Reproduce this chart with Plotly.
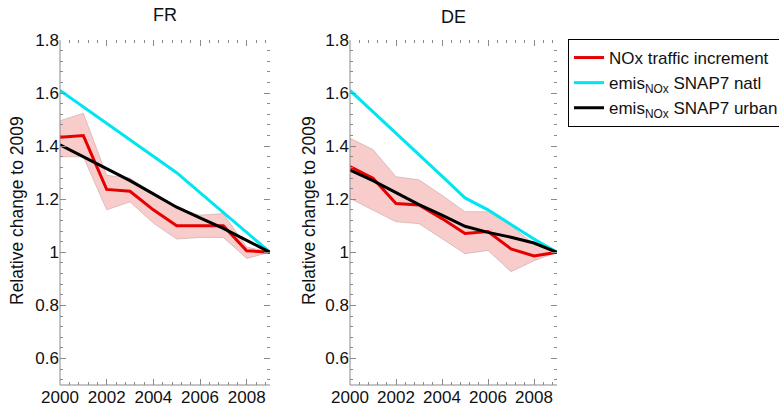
import plotly.graph_objects as go

years = list(range(2000, 2010))

# FR
fr_no2 = [1.434, 1.44, 1.237, 1.23, 1.16, 1.10, 1.10, 1.10, 1.006, 1.0]
fr_hi = [1.496, 1.524, 1.29, 1.28, 1.22, 1.165, 1.14, 1.146, 1.02, 1.0]
fr_lo = [1.36, 1.36, 1.16, 1.19, 1.11, 1.05, 1.056, 1.056, 0.977, 1.0]
fr_natl = [1.61, 1.548, 1.486, 1.424, 1.362, 1.30, 1.225, 1.15, 1.075, 1.0]
fr_urban = [1.405, 1.36, 1.315, 1.27, 1.22, 1.17, 1.13, 1.09, 1.045, 1.0]

# DE
de_no2 = [1.323, 1.279, 1.184, 1.178, 1.127, 1.071, 1.078, 1.013, 0.986, 1.0]
de_hi = [1.43, 1.387, 1.285, 1.273, 1.215, 1.153, 1.153, 1.10, 1.03, 1.0]
de_lo = [1.203, 1.159, 1.115, 1.108, 1.05, 0.995, 1.007, 0.927, 0.968, 1.0]
de_natl = [1.61, 1.53, 1.45, 1.37, 1.287, 1.205, 1.16, 1.105, 1.05, 1.0]
de_urban = [1.31, 1.27, 1.225, 1.18, 1.14, 1.098, 1.075, 1.057, 1.035, 1.0]

panel_titles = ["FR", "DE"]
y_title = "Relative change to 2009"
legend_names = ["NOx traffic increment",
                "emis<sub>NOx</sub> SNAP7 natl",
                "emis<sub>NOx</sub> SNAP7 urban"]
y_tickvals = [0.6, 0.8, 1.0, 1.2, 1.4, 1.6, 1.8]
y_ticktext = ["0.6", "0.8", "1", "1.2", "1.4", "1.6", "1.8"]

RED = "rgb(230,0,0)"
CYAN = "rgb(0,230,240)"
BLACK = "rgb(0,0,0)"
BAND = "rgba(245,170,170,0.6)"
BAND_EDGE = "rgba(190,150,150,0.7)"
FONT = "Liberation Sans, Arial, sans-serif"

fig = go.Figure()

panels = [
    ("x", "y", fr_no2, fr_hi, fr_lo, fr_natl, fr_urban, True),
    ("x2", "y2", de_no2, de_hi, de_lo, de_natl, de_urban, False),
]
for xa, ya, no2, hi, lo, natl, urb, show in panels:
    fig.add_trace(go.Scatter(x=years, y=lo, xaxis=xa, yaxis=ya, mode="lines",
                             line=dict(color=BAND_EDGE, width=0.7),
                             showlegend=False, hoverinfo="skip"))
    fig.add_trace(go.Scatter(x=years, y=hi, xaxis=xa, yaxis=ya, mode="lines",
                             line=dict(color=BAND_EDGE, width=0.7),
                             fill="tonexty", fillcolor=BAND,
                             showlegend=False, hoverinfo="skip"))
    fig.add_trace(go.Scatter(x=years, y=no2, xaxis=xa, yaxis=ya, mode="lines",
                             line=dict(color=RED, width=3),
                             name=legend_names[0], showlegend=show))
    fig.add_trace(go.Scatter(x=years, y=natl, xaxis=xa, yaxis=ya, mode="lines",
                             line=dict(color=CYAN, width=3),
                             name=legend_names[1], showlegend=show))
    fig.add_trace(go.Scatter(x=years, y=urb, xaxis=xa, yaxis=ya, mode="lines",
                             line=dict(color=BLACK, width=3),
                             name=legend_names[2], showlegend=show))

W, H = 779, 410
ml, mr, mt, mb = 60, 222, 40, 25
pw = W - ml - mr
ph = H - mt - mb
d1 = [0, (270 - ml) / pw]
d2 = [(350 - ml) / pw, 1]

TICKC = "#8a8a8a"
xcommon = dict(range=[2000, 2009], tick0=2000, dtick=2, ticks="inside",
               ticklen=6, tickwidth=1, tickcolor=TICKC,
               minor=dict(dtick=0.4, tick0=2000, ticks="inside", ticklen=3,
                          tickcolor=TICKC, tickwidth=1),
               showgrid=False, zeroline=False, showline=False, mirror="ticks",
               tickfont=dict(size=17, color="#111", family=FONT))
ycommon = dict(range=[0.5, 1.8], ticks="inside",
               ticklen=6, tickwidth=1, tickcolor=TICKC,
               minor=dict(dtick=0.04, tick0=0.6, ticks="inside", ticklen=3,
                          tickcolor=TICKC, tickwidth=1),
               showgrid=False, zeroline=False, showline=False, mirror="ticks",
               tickvals=y_tickvals, ticktext=y_ticktext,
               tickfont=dict(size=17, color="#111", family=FONT))

fig.update_layout(
    width=W, height=H,
    margin=dict(l=ml, r=mr, t=mt, b=mb, autoexpand=False),
    paper_bgcolor="white", plot_bgcolor="white",
    font=dict(family=FONT, size=17, color="#111"),
    xaxis=dict(domain=d1, anchor="y", **xcommon),
    yaxis=dict(domain=[0, 1], anchor="x", **ycommon),
    xaxis2=dict(domain=d2, anchor="y2", **xcommon),
    yaxis2=dict(domain=[0, 1], anchor="x2", **ycommon),
    legend=dict(x=(568 - ml) / pw, y=(H - mb - 39) / ph,
                xanchor="left", yanchor="top", traceorder="normal",
                bordercolor="black", borderwidth=1, bgcolor="white",
                font=dict(size=17, family=FONT, color="#111"),
                tracegroupgap=0, itemwidth=30),
    showlegend=True,
)

# left and bottom axis lines (the box has ticks only on top/right)
for xr, yr in [("x domain", "y domain"), ("x2 domain", "y2 domain")]:
    fig.add_shape(type="line", xref=xr, yref=yr, x0=0, x1=0, y0=0, y1=1,
                  line=dict(color=TICKC, width=1))
    fig.add_shape(type="line", xref=xr, yref=yr, x0=0, x1=1, y0=0, y1=0,
                  line=dict(color=TICKC, width=1))

annots = [
    dict(text=panel_titles[0], x=(d1[0] + d1[1]) / 2, y=1, yshift=25),
    dict(text=panel_titles[1], x=(d2[0] + d2[1]) / 2, y=1, yshift=23),
]
for a in annots:
    fig.add_annotation(xref="paper", yref="paper", showarrow=False,
                       xanchor="center", yanchor="middle",
                       font=dict(size=18, family=FONT, color="#111"), **a)

for xp in [17, 309]:
    fig.add_annotation(text=y_title, xref="paper", yref="paper",
                       x=(xp - ml) / pw, y=0.5, yshift=ph / 2 - (211 - mt),
                       xanchor="center", yanchor="middle", textangle=-90,
                       showarrow=False,
                       font=dict(size=17.5, family=FONT, color="#111"))

fig.write_html("out.html")
